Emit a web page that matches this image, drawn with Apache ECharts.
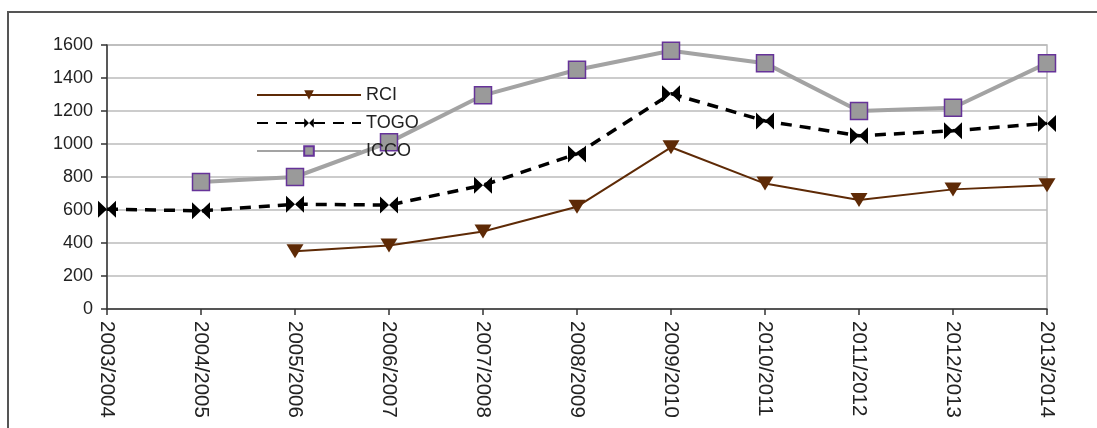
<!DOCTYPE html>
<html><head><meta charset="utf-8">
<script src="https://cdn.jsdelivr.net/npm/echarts@6/dist/echarts.min.js"></script>
<style>html,body{margin:0;padding:0;background:#fff}#c{width:1097px;height:428px}</style>
</head><body><div id="c"></div>
<script>
const categories = ['2003/2004','2004/2005','2005/2006','2006/2007','2007/2008','2008/2009','2009/2010','2010/2011','2011/2012','2012/2013','2013/2014'];
const rci  = [null, null, 350, 385, 470, 620, 980, 760, 660, 725, 750];
const togo = [605, 595, 635, 630, 750, 940, 1305, 1140, 1050, 1080, 1125];
const icco = [null, 770, 800, 1010, 1295, 1450, 1565, 1490, 1200, 1220, 1490];
const yTicks = {min: 0, max: 1600, interval: 200};

const chart = echarts.init(document.getElementById('c'), null, {renderer: 'canvas'});
const bowtie = 'path://M0,0L10,8L0,16ZM20,0L10,8L20,16Z';
chart.setOption({
  animation: false,
  textStyle: {fontFamily: 'Liberation Sans, Arial, sans-serif'},
  grid: {left: 107, right: 50, top: 45, bottom: 119, show: true, borderColor: '#bbbbbb', borderWidth: 1.5},
  graphic: [{
    type: 'polyline', shape: {points: [[8, 430], [8, 12], [1100, 12]]},
    style: {stroke: '#555', lineWidth: 2, fill: null}, z: 0
  }],
  legend: {
    orient: 'vertical', left: 251, top: 81, itemWidth: 104, itemHeight: 12, itemGap: 10,
    textStyle: {fontSize: 18, color: '#222', lineHeight: 14},
    data: ['RCI', 'TOGO', 'ICCO']
  },
  xAxis: {
    type: 'category', data: categories, boundaryGap: false,
    axisLine: {lineStyle: {color: '#333', width: 1.5}},
    axisTick: {show: true, length: 6, lineStyle: {color: '#333', width: 1.5}},
    axisLabel: {rotate: -90, fontSize: 20.5, color: '#222', margin: 12, interval: 0},
    splitLine: {show: false}
  },
  yAxis: {
    type: 'value', min: yTicks.min, max: yTicks.max, interval: yTicks.interval,
    axisLine: {show: true, lineStyle: {color: '#333', width: 1.5}},
    axisTick: {show: true, length: 6, lineStyle: {color: '#333', width: 1.5}},
    axisLabel: {fontSize: 18, color: '#222', margin: 14, formatter: v => String(v)},
    splitLine: {lineStyle: {color: '#bbbbbb', width: 1.5}}
  },
  series: [
    {name: 'ICCO', type: 'line', data: icco, z: 2,
     symbol: 'rect', symbolSize: 17,
     lineStyle: {color: '#a3a3a3', width: 4},
     itemStyle: {color: '#9a9a9a', borderColor: '#663399', borderWidth: 1.5}},
    {name: 'TOGO', type: 'line', data: togo, z: 3,
     symbol: bowtie, symbolSize: [18, 17],
     lineStyle: {color: '#000', width: 3.5, type: [11, 8]},
     itemStyle: {color: '#000'}},
    {name: 'RCI', type: 'line', data: rci, z: 4,
     symbol: 'triangle', symbolRotate: 180, symbolSize: [17, 14],
     lineStyle: {color: '#5e2a06', width: 2},
     itemStyle: {color: '#5e2a06'}}
  ]
});
</script></body></html>
